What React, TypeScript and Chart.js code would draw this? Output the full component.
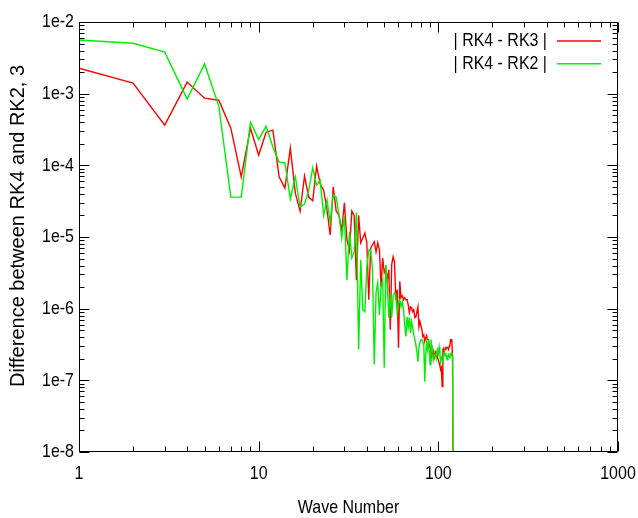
import React, { useEffect, useRef } from 'react';
import { Chart, registerables } from 'chart.js';

Chart.register(...registerables);

// ---------- data ----------
const waveNumbers = [
  1, 2, 3, 4, 5, 6, 7, 8, 9, 10,
  11, 12, 13, 14, 15, 16, 17, 18, 19, 20,
  21, 22, 23, 24, 25, 26, 27, 28, 29, 30,
  31, 32, 33, 34, 35, 36, 37, 38, 39, 40,
  41, 42, 43, 44, 45, 46, 47, 48, 49, 50,
  51, 52, 53, 54, 55, 56, 57, 58, 59, 60,
  61, 62, 63, 64, 65, 66, 67, 68, 69, 70,
  71, 72, 73, 74, 75, 76, 77, 78, 79, 80,
  81, 82, 83, 84, 85, 86, 87, 88, 89, 90,
  91, 92, 93, 94, 95, 96, 97, 98, 99, 100,
  101, 102, 103, 104, 105, 106, 107, 108, 109, 110,
  111, 112, 113, 114, 115, 116, 117, 118, 119, 120,
  121,
];

// | RK4 - RK3 |
const rk4MinusRk3 = [
  2.26e-3, 1.40e-3, 3.64e-4, 1.45e-3, 8.65e-4, 8.1e-4, 3.3e-4, 6.9e-5, 3.3e-4, 1.39e-4,
  2.9e-4, 3.1e-4, 6.9e-5, 4.8e-5, 1.74e-4, 4.1e-5, 2.3e-5, 7.1e-5, 3.6e-5, 3.2e-5,
  9.8e-5, 5.5e-5, 4.5e-5, 2.4e-5, 1.07e-5, 5.0e-5, 2.3e-5, 2.0e-5, 1.22e-5, 3.0e-5,
  9.1e-6, 6.4e-6, 2.3e-5, 2.0e-5, 2.5e-6, 2.0e-5, 8.3e-6, 9.7e-6, 1.14e-5, 8.3e-6,
  1.33e-6, 7.0e-6, 7.8e-6, 8.6e-6, 6.2e-6, 8.3e-6, 6.6e-6, 2.0e-6, 5.1e-6, 3.2e-6,
  3.7e-6, 2.5e-6, 3.5e-6, 5.1e-7, 4.1e-6, 5.3e-6, 4.5e-6, 1.33e-6, 1.84e-6, 2.85e-7,
  2.4e-6, 1.42e-6, 1.51e-6, 1.33e-6, 1.42e-6, 1.33e-6, 1.33e-6, 1.13e-6, 8.8e-7, 1.06e-6,
  1.03e-6, 9.1e-7, 9.7e-7, 7.5e-7, 7.7e-7, 9.1e-7, 1.06e-6, 5.6e-7, 6.6e-7, 5.8e-7,
  5.1e-7, 4.1e-7, 4.3e-7, 3.5e-7, 3.9e-7, 4.2e-7, 3.7e-7, 3.7e-7, 3.1e-7, 2.9e-7,
  2.5e-7, 2.1e-7, 2.7e-7, 2.35e-7, 2.1e-7, 2.5e-7, 2.3e-7, 2.4e-7, 2.07e-7, 1.94e-7,
  1.77e-7, 1.6e-7, 1.41e-7, 1.5e-7, 8.2e-8, 2.7e-7, 2.8e-7, 2.5e-7, 2.7e-7, 2.85e-7,
  2.8e-7, 2.9e-7, 2.85e-7, 2.7e-7, 3.0e-7, 3.1e-7, 3.7e-7, 3.7e-7, 3.35e-7, 2.1e-7,
  1e-9,
];

// | RK4 - RK2 |
const rk4MinusRk2 = [
  5.6e-3, 5.05e-3, 3.8e-3, 8.4e-4, 2.6e-3, 6.7e-4, 3.6e-5, 3.6e-5, 4.0e-4, 2.3e-4,
  3.5e-4, 1.8e-4, 1.11e-4, 1.08e-4, 3.4e-5, 6.9e-5, 2.6e-5, 2.9e-5, 4.5e-5, 9.2e-5,
  5.3e-5, 6.2e-5, 2.0e-5, 3.3e-5, 1.57e-5, 3.9e-5, 3.6e-5, 2.0e-5, 9.7e-6, 2.0e-5,
  2.5e-6, 1.18e-5, 5.1e-6, 6.2e-6, 2.2e-5, 2.7e-7, 4.8e-6, 9.7e-7, 9.1e-7, 3.8e-6,
  6.6e-6, 6.6e-6, 3.5e-6, 1.66e-7, 1.67e-6, 2.3e-6, 8.2e-7, 2.0e-6, 2.5e-6, 1.5e-7,
  4.1e-6, 2.15e-6, 7.5e-7, 1.67e-6, 7.5e-7, 1.47e-6, 1.67e-6, 1.56e-6, 8.8e-7, 1.21e-6,
  1.33e-6, 1.06e-6, 1.25e-6, 9.7e-7, 6.0e-7, 4.1e-7, 7.7e-7, 5.6e-7, 7.5e-7, 4.6e-7,
  6.6e-7, 5.4e-7, 4.3e-7, 3.7e-7, 3.1e-7, 2.5e-7, 1.82e-7, 2.85e-7, 3.35e-7, 3.7e-7,
  3.7e-7, 3.5e-7, 3.1e-7, 9.6e-8, 2.3e-7, 3.3e-7, 2.7e-7, 3.7e-7, 2.5e-7, 1.66e-7,
  3.7e-7, 3.0e-7, 2.7e-7, 1.94e-7, 2.2e-7, 2.3e-7, 2.07e-7, 2.5e-7, 2.7e-7, 2.4e-7,
  2.9e-7, 2.3e-7, 1.82e-7, 2.07e-7, 1.94e-7, 1.82e-7, 2.3e-7, 2.5e-7, 2.2e-7, 2.4e-7,
  2.1e-7, 1.94e-7, 2.2e-7, 2.3e-7, 2.1e-7, 2.07e-7, 2.35e-7, 2.4e-7, 2.2e-7, 2.07e-7,
  1e-9,
];

const seriesLabels = ['| RK4 - RK3 |', '| RK4 - RK2 |'];
const seriesColors = ['#ff0000', '#00ee00'];

const xTickValues = [1, 10, 100, 1000];
const xTickLabels = ['1', '10', '100', '1000'];
const yTickValues = [1e-8, 1e-7, 1e-6, 1e-5, 1e-4, 1e-3, 1e-2];
const yTickLabels = ['1e-8', '1e-7', '1e-6', '1e-5', '1e-4', '1e-3', '1e-2'];

const xTitle = 'Wave Number';
const yTitle = 'Difference between RK4 and RK2, 3';

// ---------- styles ----------
const SANS = '"Liberation Sans", Arial, sans-serif';
const LABEL_FONT = `19px ${SANS}`;
const NARROW_X = 0.84; // horizontal squeeze to mimic a narrow face
const MAJOR_TICK = 10;
const MINOR_TICK = 5;

function narrowText(ctx: CanvasRenderingContext2D, text: string, x: number, y: number, align: CanvasTextAlign) {
  ctx.save();
  ctx.translate(x, y);
  ctx.scale(NARROW_X, 1);
  ctx.textAlign = align;
  ctx.textBaseline = 'middle';
  ctx.font = LABEL_FONT;
  ctx.fillStyle = '#000';
  ctx.fillText(text, 0, 0);
  ctx.restore();
}

const gnuplotFrame = {
  id: 'gnuplotFrame',
  afterDraw(chart: any) {
    const { ctx, chartArea: a } = chart;
    const xs = chart.scales.x;
    const ys = chart.scales.y;
    ctx.save();
    ctx.strokeStyle = '#000';
    ctx.lineWidth = 1;
    const L = Math.round(a.left) + 0.5;
    const R = Math.round(a.right) - 0.5;
    const T = Math.round(a.top) + 0.5;
    const B = Math.round(a.bottom) - 0.5;
    ctx.beginPath();
    ctx.rect(L, T, R - L, B - T);
    for (const base of xTickValues) {
      for (let m = 1; m <= 9; m++) {
        const v = base * m;
        if (v > xs.max * 1.0001) break;
        const px = Math.round(xs.getPixelForValue(v)) + 0.5;
        const len = m === 1 ? MAJOR_TICK : MINOR_TICK;
        ctx.moveTo(px, B);
        ctx.lineTo(px, B - len);
        ctx.moveTo(px, T);
        ctx.lineTo(px, T + len);
      }
    }
    for (const base of yTickValues) {
      for (let m = 1; m <= 9; m++) {
        const v = base * m;
        if (v > ys.max * 1.0001) break;
        const py = Math.round(ys.getPixelForValue(v)) + 0.5;
        const len = m === 1 ? MAJOR_TICK : MINOR_TICK;
        ctx.moveTo(L, py);
        ctx.lineTo(L + len, py);
        ctx.moveTo(R, py);
        ctx.lineTo(R - len, py);
      }
    }
    ctx.stroke();

    // tick labels
    xTickValues.forEach((v, i) => {
      narrowText(ctx, xTickLabels[i], xs.getPixelForValue(v), 474, 'center');
    });
    yTickValues.forEach((v, i) => {
      narrowText(ctx, yTickLabels[i], 74, ys.getPixelForValue(v), 'right');
    });

    // legend (gnuplot style: text then line sample)
    const rows = [41, 63.7];
    chart.data.datasets.forEach((ds: any, i: number) => {
      const y = rows[i];
      narrowText(ctx, ds.label, 547, y, 'right');
      ctx.beginPath();
      ctx.strokeStyle = ds.borderColor;
      ctx.lineWidth = 1.4;
      ctx.moveTo(557, y);
      ctx.lineTo(601, y);
      ctx.stroke();
    });

    // axis titles
    narrowText(ctx, xTitle, (a.left + a.right) / 2, 508, 'center');
    ctx.translate(18, 226);
    ctx.rotate(-Math.PI / 2);
    ctx.font = `20px ${SANS}`;
    ctx.fillStyle = '#000';
    ctx.textAlign = 'center';
    ctx.textBaseline = 'middle';
    ctx.fillText(yTitle, 0, 0);
    ctx.restore();
  },
};

export default function App() {
  const canvasRef = useRef<HTMLCanvasElement | null>(null);

  useEffect(() => {
    const canvas = canvasRef.current;
    if (!canvas) return;
    const chart = new Chart(canvas, {
      type: 'line',
      data: {
        datasets: [
          {
            label: seriesLabels[0],
            data: waveNumbers.map((x, i) => ({ x, y: rk4MinusRk3[i] })),
            borderColor: seriesColors[0],
            backgroundColor: seriesColors[0],
            borderWidth: 1.4,
            pointRadius: 0,
            tension: 0,
            order: 1,
          },
          {
            label: seriesLabels[1],
            data: waveNumbers.map((x, i) => ({ x, y: rk4MinusRk2[i] })),
            borderColor: seriesColors[1],
            backgroundColor: seriesColors[1],
            borderWidth: 1.4,
            pointRadius: 0,
            tension: 0,
            order: 0,
          },
        ],
      },
      options: {
        responsive: false,
        animation: false,
        layout: { padding: { left: 0, top: 22, right: 20, bottom: 0 } },
        plugins: { legend: { display: false }, tooltip: { enabled: false } },
        scales: {
          x: {
            type: 'logarithmic',
            position: 'bottom',
            min: 1,
            max: 1000,
            afterBuildTicks: (s: any) => {
              s.ticks = xTickValues.map((v) => ({ value: v }));
            },
            afterFit: (s: any) => {
              s.height = 66;
              s.paddingLeft = 0;
              s.paddingRight = 0;
            },
            grid: { display: false, drawTicks: false },
            border: { display: false },
            ticks: { display: false },
          },
          y: {
            type: 'logarithmic',
            position: 'left',
            min: 1e-8,
            max: 1e-2,
            afterBuildTicks: (s: any) => {
              s.ticks = yTickValues.map((v) => ({ value: v }));
            },
            afterFit: (s: any) => {
              s.width = 79;
              s.paddingTop = 0;
              s.paddingBottom = 0;
            },
            grid: { display: false, drawTicks: false },
            border: { display: false },
            ticks: { display: false },
          },
        },
      },
      plugins: [gnuplotFrame],
    } as any);
    return () => chart.destroy();
  }, []);

  return (
    <div style={{ position: 'fixed', left: 0, top: 0, width: 638, height: 518, background: '#fff' }}>
      <canvas ref={canvasRef} width={638} height={518} style={{ display: 'block' }} />
    </div>
  );
}
